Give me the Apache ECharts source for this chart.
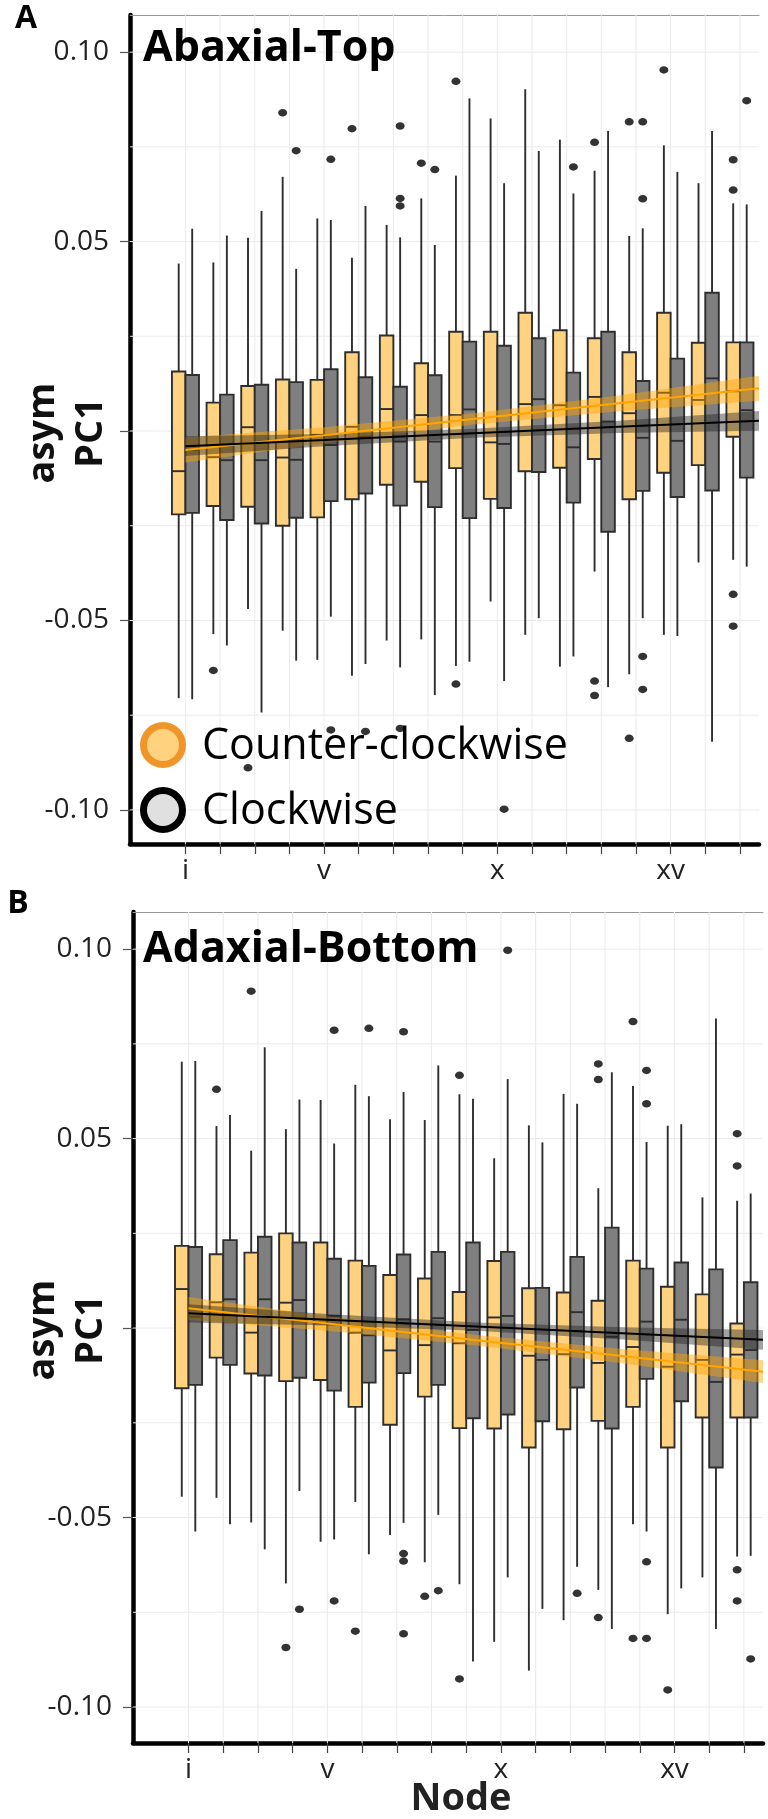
<!DOCTYPE html>
<html><head><meta charset="utf-8">
<script src="https://cdn.jsdelivr.net/npm/echarts@6/dist/echarts.min.js"></script>
<style>html,body{margin:0;padding:0;background:#fff}#c{width:768px;height:1819px}</style>
</head><body><div id="c"></div>
<script>
// ---------- data ----------
const nodes = [1,2,3,4,5,6,7,8,9,10,11,12,13,14,15,16,17];
const xLabelNodes = [1,5,10,15];
const romanLabels = {1:'i',5:'v',10:'x',15:'xv'};
const yTickValues = [-0.1,-0.075,-0.05,-0.025,0,0.025,0.05,0.075,0.1];
const yLabelValues = [-0.1,-0.05,0.05,0.1];
const yMajorTicks = [-0.1,-0.05,0,0.05,0.1];
const legendNames = ['Counter-clockwise','Clockwise'];
const panelTitles = ['Abaxial-Top','Adaxial-Bottom'];

// [lower whisker, Q1, median, Q3, upper whisker]
const topCCW = [
[-0.0705,-0.0220,-0.0106,0.0157,0.0442],[-0.0536,-0.0198,-0.0069,0.0075,0.0445],[-0.0470,-0.0200,0.0010,0.0119,0.0510],
[-0.0527,-0.0250,-0.0070,0.0136,0.0671],[-0.0604,-0.0228,-0.0010,0.0135,0.0561],[-0.0646,-0.0180,0.0011,0.0208,0.0457],
[-0.0553,-0.0142,0.0058,0.0252,0.0544],[-0.0550,-0.0134,0.0042,0.0179,0.0614],[-0.0620,-0.0098,0.0042,0.0262,0.0674],
[-0.0450,-0.0179,-0.0030,0.0262,0.0825],[-0.0538,-0.0106,0.0071,0.0312,0.0902],[-0.0622,-0.0097,0.0068,0.0266,0.0769],
[-0.0371,-0.0074,0.0090,0.0245,0.0687],[-0.0642,-0.0180,0.0047,0.0208,0.0515],[-0.0538,-0.0110,0.0101,0.0312,0.0754],
[-0.0347,-0.0090,0.0082,0.0233,0.0654],[-0.0340,-0.0015,0.0105,0.0234,0.0601]];
const topCW = [
[-0.0708,-0.0216,-0.0050,0.0148,0.0534],[-0.0566,-0.0235,-0.0077,0.0096,0.0516],[-0.0743,-0.0244,-0.0077,0.0122,0.0581],
[-0.0606,-0.0229,-0.0076,0.0129,0.0428],[-0.0490,-0.0185,-0.0037,0.0163,0.0557],[-0.0615,-0.0165,-0.0015,0.0142,0.0594],
[-0.0624,-0.0197,-0.0028,0.0117,0.0511],[-0.0697,-0.0201,-0.0028,0.0147,0.0491],[-0.0609,-0.0230,0.0057,0.0236,0.0878],
[-0.0660,-0.0203,-0.0034,0.0225,0.0654],[-0.0494,-0.0108,0.0084,0.0245,0.0739],[-0.0595,-0.0189,-0.0043,0.0154,0.0627],
[-0.0676,-0.0266,0.0025,0.0262,0.0792],[-0.0494,-0.0158,-0.0018,0.0132,0.0535],[-0.0541,-0.0174,-0.0026,0.0191,0.0684],
[-0.0820,-0.0157,0.0139,0.0365,0.0792],[-0.0358,-0.0123,0.0055,0.0234,0.0598]];
const topCCWOut = [[4,0.084],[6,0.0798],[8,0.0707],[9,0.0923],[13,0.0762],[14,0.0816],[15,0.0953],[17,0.0716],[17,0.0636],
[2,-0.0632],[3,-0.0889],[9,-0.0668],[13,-0.066],[13,-0.0698],[14,-0.0811],[17,-0.0431],[17,-0.0515]];
const topCWOut = [[4,0.074],[5,0.0717],[7,0.0805],[7,0.0614],[7,0.0594],[8,0.069],[12,0.0697],[14,0.0816],[14,0.0613],[17,0.0872],
[5,-0.0789],[6,-0.0793],[7,-0.0785],[10,-0.0998],[14,-0.0595],[14,-0.0682]];

const botCCW = [
[-0.0445,-0.0159,0.0103,0.0217,0.0703],[-0.0448,-0.0078,0.0068,0.0195,0.0533],[-0.0513,-0.0120,-0.0012,0.0199,0.0468],
[-0.0674,-0.0140,0.0067,0.0250,0.0525],[-0.0564,-0.0137,0.0012,0.0226,0.0602],[-0.0459,-0.0208,-0.0012,0.0178,0.0642],
[-0.0546,-0.0255,-0.0059,0.0140,0.0551],[-0.0618,-0.0181,-0.0045,0.0131,0.0549],[-0.0676,-0.0264,-0.0040,0.0095,0.0617],
[-0.0828,-0.0265,0.0028,0.0177,0.0448],[-0.0904,-0.0315,-0.0073,0.0105,0.0535],[-0.0771,-0.0267,-0.0069,0.0094,0.0618],
[-0.0691,-0.0245,-0.0092,0.0072,0.0369],[-0.0518,-0.0208,-0.0050,0.0178,0.0639],[-0.0755,-0.0315,-0.0102,0.0109,0.0534],
[-0.0658,-0.0236,-0.0084,0.0089,0.0345],[-0.0603,-0.0236,-0.0070,0.0012,0.0336]];
const botCW = [
[-0.0537,-0.0150,0.0030,0.0214,0.0705],[-0.0518,-0.0097,0.0076,0.0232,0.0562],[-0.0584,-0.0125,0.0076,0.0241,0.0741],
[-0.0430,-0.0131,0.0074,0.0226,0.0603],[-0.0558,-0.0165,0.0032,0.0183,0.0487],[-0.0597,-0.0144,-0.0019,0.0164,0.0612],
[-0.0514,-0.0119,0.0023,0.0194,0.0623],[-0.0493,-0.0150,0.0026,0.0201,0.0693],[-0.0880,-0.0238,-0.0005,0.0226,0.0605],
[-0.0658,-0.0228,0.0032,0.0201,0.0657],[-0.0741,-0.0246,-0.0084,0.0106,0.0490],[-0.0630,-0.0157,0.0042,0.0188,0.0592],
[-0.0794,-0.0265,-0.0023,0.0265,0.0675],[-0.0537,-0.0134,0.0017,0.0157,0.0491],[-0.0687,-0.0193,0.0022,0.0173,0.0538],
[-0.0794,-0.0368,-0.0142,0.0155,0.0817],[-0.0601,-0.0236,-0.0058,0.0121,0.0355]];
const botCCWOut = [[2,0.063],[3,0.0889],[9,0.0667],[13,0.0697],[13,0.0656],[14,0.0809],[17,0.0513],[17,0.0428],
[4,-0.0843],[6,-0.08],[8,-0.0708],[9,-0.0926],[13,-0.0764],[14,-0.0819],[15,-0.0955],[17,-0.0638],[17,-0.072]];
const botCWOut = [[5,0.0786],[6,0.0791],[7,0.0782],[10,0.0997],[14,0.068],[14,0.0592],
[4,-0.0742],[5,-0.072],[7,-0.0595],[7,-0.0615],[7,-0.0807],[8,-0.0693],[12,-0.07],[14,-0.0617],[14,-0.0819],[17,-0.0873]];

// regression fits (values read at knots) and confidence half-widths
const fitX = [1,5,9.3,13.5,17.55];
const topFitCCW = [-0.0050,-0.0011,0.0032,0.0073,0.0113];
const topBandCCW = [0.0033,0.0021,0.0015,0.0021,0.0033];
const topFitCW = [-0.0040,-0.0024,-0.0006,0.0011,0.0027];
const topBandCW = [0.0026,0.0016,0.0012,0.0016,0.0026];
const botFitCCW = [0.0052,0.0012,-0.0032,-0.0074,-0.0115];
const botBandCCW = [0.0030,0.0019,0.0014,0.0019,0.0030];
const botFitCW = [0.0039,0.0022,0.0004,-0.0014,-0.0031];
const botBandCW = [0.0024,0.0015,0.0011,0.0016,0.0026];

// ---------- style / layout ----------
const FONT = '"Open Sans", "DejaVu Sans", sans-serif';
const X_MIN = -0.6, X_MAX = 17.55;
const BOX_W = 0.39, OFF = 0.195;
const ORANGE_FILL = '#FFD27F', GREY_FILL = '#7F7F7F', EDGE = '#2E2E2E';
const LW = 1.9;

function boxSeries(xi, yi, data, offset, fill){
  return {type:'custom', xAxisIndex:xi, yAxisIndex:yi, z:3, silent:true, clip:true,
    data: data.map((d,i)=>[nodes[i]].concat(d)),
    encode:{x:0, y:[1,2,3,4,5]},
    renderItem(params, api){
      const x = api.value(0) + offset;
      const w = api.size([BOX_W,0])[0];
      const p = [1,2,3,4,5].map(k=>api.coord([x, api.value(k)]));
      const cx = p[0][0];
      return {type:'group', children:[
        {type:'line', shape:{x1:cx,y1:p[0][1],x2:cx,y2:p[1][1]}, style:{stroke:EDGE,lineWidth:LW}},
        {type:'line', shape:{x1:cx,y1:p[3][1],x2:cx,y2:p[4][1]}, style:{stroke:EDGE,lineWidth:LW}},
        {type:'rect', shape:{x:cx-w/2,y:p[3][1],width:w,height:p[1][1]-p[3][1]}, style:{fill:fill,stroke:EDGE,lineWidth:LW}},
        {type:'line', shape:{x1:cx-w/2,y1:p[2][1],x2:cx+w/2,y2:p[2][1]}, style:{stroke:EDGE,lineWidth:LW}}
      ]};
    }};
}
function bandSeries(xi, yi, mid, half, color){
  return {type:'custom', xAxisIndex:xi, yAxisIndex:yi, z:4, silent:true, clip:true,
    data:[[fitX[0], mid[0]]],
    renderItem(params, api){
      const up = fitX.map((x,i)=>api.coord([x, mid[i]+half[i]]));
      const lo = fitX.map((x,i)=>api.coord([x, mid[i]-half[i]])).reverse();
      return {type:'polygon', shape:{points: up.concat(lo)}, style:{fill:color}};
    }};
}
function fitLine(xi, yi, mid, color){
  return {type:'line', xAxisIndex:xi, yAxisIndex:yi, z:5, silent:true, symbol:'none',
    data: fitX.map((x,i)=>[x, mid[i]]), lineStyle:{color:color, width:2}};
}
function outSeries(xi, yi, pts, offset){
  return {type:'scatter', xAxisIndex:xi, yAxisIndex:yi, z:6, silent:true, symbol:'circle', symbolSize:[9,7.5],
    data: pts.map(p=>[p[0]+offset, p[1]]), itemStyle:{color:'#000'}};
}
function gridV(xi, yi){
  return {type:'custom', xAxisIndex:xi, yAxisIndex:yi, z:1, silent:true,
    data: nodes.map(n=>[n, 0]),
    renderItem(params, api){
      const cs = params.coordSys; const x = api.coord([api.value(0), 0])[0];
      return {type:'line', shape:{x1:x,y1:cs.y,x2:x,y2:cs.y+cs.height}, style:{stroke:'#EBEBEB',lineWidth:1}};
    }};
}
function gridH(xi, yi){
  return {type:'custom', xAxisIndex:xi, yAxisIndex:yi, z:1, silent:true,
    data: yTickValues.map(v=>[1, v]),
    renderItem(params, api){
      const cs = params.coordSys; const y = api.coord([1, api.value(1)])[1];
      return {type:'line', shape:{x1:cs.x,y1:y,x2:cs.x+cs.width,y2:y}, style:{stroke:'#EBEBEB',lineWidth:1}};
    }};
}
function bottomX(gi){
  return {gridIndex:gi, type:'value', min:X_MIN, max:X_MAX,
    axisLine:{show:true, onZero:false, lineStyle:{color:'#000', width:4.5}},
    axisTick:{show:true, customValues:nodes, length:10, lineStyle:{color:'#444', width:1.2}},
    axisLabel:{customValues:xLabelNodes, formatter:v=>romanLabels[Math.round(v)]||'', fontSize:28, color:'#222', margin:13, fontFamily:FONT},
    splitLine:{show:false}};
}
function topX(gi){
  return {gridIndex:gi, type:'value', position:'top', min:X_MIN, max:X_MAX,
    axisLine:{show:true, onZero:false, lineStyle:{color:'#999', width:1}},
    axisTick:{show:false}, axisLabel:{show:false}, splitLine:{show:false}};
}
function leftY(gi, mn, mx){
  return {gridIndex:gi, type:'value', min:mn, max:mx,
    axisLine:{show:true, onZero:false, lineStyle:{color:'#000', width:4.5}},
    axisTick:{show:true, customValues:yMajorTicks, length:10, lineStyle:{color:'#555', width:1.2}},
    axisLabel:{customValues:yLabelValues, formatter:v=>v.toFixed(2), fontSize:28, color:'#222', margin:21, fontFamily:FONT},
    splitLine:{show:false}};
}

const chart = echarts.init(document.getElementById('c'), null, {renderer:'canvas'});
chart.setOption({
  animation:false,
  backgroundColor:'#fff',
  grid:[
    {left:130, right:9, top:15, height:829},
    {left:133, right:5, top:912, height:831}
  ],
  xAxis:[bottomX(0), topX(0), bottomX(1), topX(1)],
  yAxis:[leftY(0,-0.109,0.1098), leftY(1,-0.1095,0.1098)],
  series:[
    gridV(0,0), gridH(0,0), gridV(2,1), gridH(2,1),
    boxSeries(0,0,topCCW,-OFF,ORANGE_FILL), boxSeries(0,0,topCW,OFF,GREY_FILL),
    boxSeries(2,1,botCCW,-OFF,ORANGE_FILL), boxSeries(2,1,botCW,OFF,GREY_FILL),
    bandSeries(0,0,topFitCCW,topBandCCW,'rgba(255,165,0,0.45)'),
    bandSeries(0,0,topFitCW,topBandCW,'rgba(30,30,30,0.42)'),
    bandSeries(2,1,botFitCCW,botBandCCW,'rgba(255,165,0,0.45)'),
    bandSeries(2,1,botFitCW,botBandCW,'rgba(30,30,30,0.42)'),
    fitLine(0,0,topFitCCW,'#FFA500'), fitLine(0,0,topFitCW,'#000'),
    fitLine(2,1,botFitCCW,'#FFA500'), fitLine(2,1,botFitCW,'#000'),
    outSeries(0,0,topCCWOut,-OFF), outSeries(0,0,topCWOut,OFF),
    outSeries(2,1,botCCWOut,-OFF), outSeries(2,1,botCWOut,OFF)
  ],
  graphic:[
    {type:'text', x:26, y:19, z:10, style:{text:'A', font:'bold 32px '+FONT, fill:'#000', textAlign:'center', textVerticalAlign:'middle'}},
    {type:'text', x:18, y:904, z:10, style:{text:'B', font:'bold 32px '+FONT, fill:'#000', textAlign:'center', textVerticalAlign:'middle'}},
    {type:'text', x:143, y:49, z:10, style:{text:panelTitles[0], font:'bold 43px '+FONT, fill:'#000', textAlign:'left', textVerticalAlign:'middle'}},
    {type:'text', x:143, y:950, z:10, style:{text:panelTitles[1], font:'bold 43px '+FONT, fill:'#000', textAlign:'left', textVerticalAlign:'middle'}},
    {type:'text', x:67, y:433, rotation:Math.PI/2, z:10, style:{text:'asym\nPC1', font:'bold 38px '+FONT, lineHeight:48, fill:'#111', textAlign:'center', textVerticalAlign:'middle'}},
    {type:'text', x:67, y:1330, rotation:Math.PI/2, z:10, style:{text:'asym\nPC1', font:'bold 38px '+FONT, lineHeight:48, fill:'#111', textAlign:'center', textVerticalAlign:'middle'}},
    {type:'text', x:461, y:1799, z:10, style:{text:'Node', font:'bold 38px '+FONT, fill:'#222', textAlign:'center', textVerticalAlign:'middle'}},
    {type:'circle', z:10, shape:{cx:163, cy:745, r:19.5}, style:{fill:'#FFD27F', stroke:'#F0952A', lineWidth:7}},
    {type:'circle', z:10, shape:{cx:163, cy:810, r:19.5}, style:{fill:'#E0E0E0', stroke:'#000', lineWidth:7}},
    {type:'text', x:202, y:747, z:10, style:{text:legendNames[0], font:'43px '+FONT, fill:'#000', textAlign:'left', textVerticalAlign:'middle'}},
    {type:'text', x:202, y:812, z:10, style:{text:legendNames[1], font:'43px '+FONT, fill:'#000', textAlign:'left', textVerticalAlign:'middle'}}
  ]
});
</script>
</body></html>
